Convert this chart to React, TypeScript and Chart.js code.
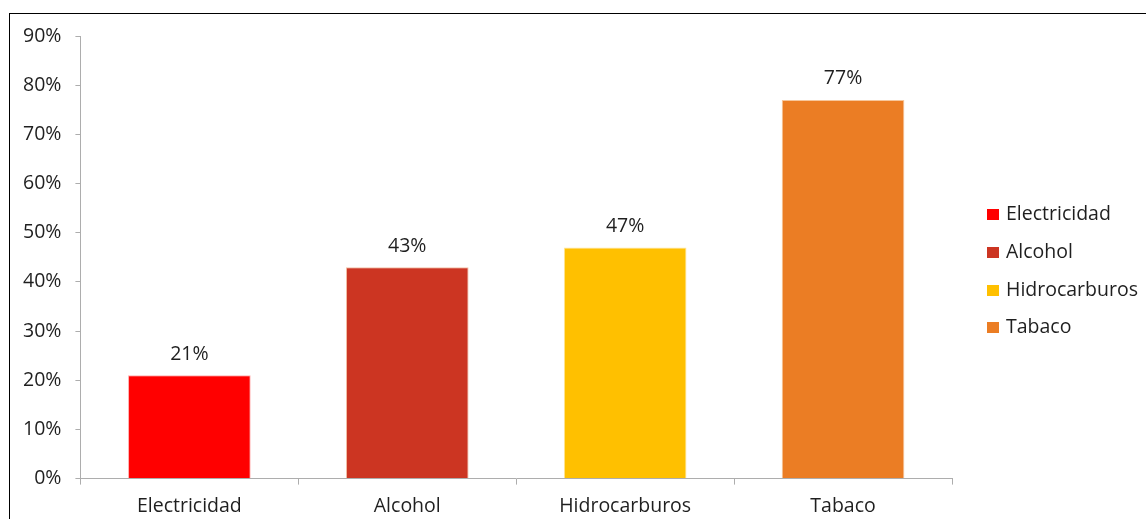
import React, { useEffect, useRef } from "react";
import { Chart, registerables } from "chart.js";

Chart.register(...registerables);

const categories = ["Electricidad", "Alcohol", "Hidrocarburos", "Tabaco"];
const values = [21, 43, 47, 77];
const barColors = ["#FF0000", "#CC3522", "#FFC000", "#EB7D24"];
const barBorders = ["#ffb0b0", "#f3c2a6", "#ffe59a", "#f7c79c"];
const yTicks = [0, 10, 20, 30, 40, 50, 60, 70, 80, 90];

const FONT = "'Open Sans', sans-serif";
const FS = 19.5;
const TEXT = "#1f1f1f";
const AXIS = "#adadad";

const valueLabels = {
  id: "valueLabels",
  afterDatasetsDraw(chart: any) {
    const ctx = chart.ctx;
    const meta = chart.getDatasetMeta(0);
    ctx.save();
    ctx.font = `${FS}px ${FONT}`;
    ctx.fillStyle = TEXT;
    ctx.textAlign = "center";
    ctx.textBaseline = "middle";
    meta.data.forEach((bar: any, i: number) => {
      ctx.fillText(`${values[i]}%`, bar.x, bar.y - 21);
    });
    ctx.restore();
  },
};

const sideLegend = {
  id: "sideLegend",
  afterDraw(chart: any) {
    const ctx = chart.ctx;
    const area = chart.chartArea;
    const rowGap = 37.7;
    const box = 11;
    const x0 = area.right + 35;
    const midY = (area.top + area.bottom) / 2 + 14;
    const startY = midY - ((categories.length - 1) * rowGap) / 2;
    ctx.save();
    ctx.font = `${FS}px ${FONT}`;
    ctx.textBaseline = "middle";
    ctx.textAlign = "left";
    categories.forEach((c, i) => {
      const y = startY + i * rowGap;
      ctx.fillStyle = barColors[i];
      ctx.fillRect(x0, Math.round(y - box / 2), box + 1, box);
      ctx.fillStyle = TEXT;
      ctx.fillText(c, x0 + 19, y);
    });
    ctx.restore();
  },
};

export default function App() {
  const ref = useRef<HTMLCanvasElement>(null);

  useEffect(() => {
    if (!ref.current) return;
    const chart = new Chart(ref.current, {
      type: "bar",
      data: {
        labels: categories,
        datasets: [
          {
            data: values,
            backgroundColor: barColors,
            borderColor: barBorders,
            borderWidth: 1,
            barPercentage: 0.563,
            categoryPercentage: 1,
          },
        ],
      },
      options: {
        animation: false,
        responsive: false,
        maintainAspectRatio: false,
        layout: { padding: { left: 9, top: 36, right: 194, bottom: -9 } },
        plugins: {
          legend: { display: false },
          tooltip: { enabled: false },
        },
        scales: {
          x: {
            offset: true,
            grid: {
              display: true,
              drawOnChartArea: false,
              drawTicks: true,
              tickLength: 6,
              color: AXIS,
              offset: true,
            },
            border: { color: AXIS, width: 1 },
            ticks: {
              color: TEXT,
              padding: 10,
              font: { family: FONT, size: FS, lineHeight: 1.2 },
            },
          },
          y: {
            min: 0,
            max: 90,
            afterBuildTicks(scale: any) {
              scale.ticks = yTicks.map((v) => ({ value: v }));
            },
            grid: {
              display: true,
              drawOnChartArea: false,
              drawTicks: true,
              tickLength: 5,
              color: AXIS,
            },
            border: { color: AXIS, width: 1 },
            ticks: {
              color: TEXT,
              padding: 14,
              font: { family: FONT, size: FS },
              callback: (v: any) => `${v}%`,
            },
          },
        },
      },
      plugins: [valueLabels, sideLegend],
    });
    return () => chart.destroy();
  }, []);

  return (
    <div
      style={{
        position: "absolute",
        left: 0,
        top: 0,
        width: 1146,
        height: 519,
        background: "#fff",
        overflow: "hidden",
      }}
    >
      <div
        style={{
          position: "absolute",
          left: 9,
          top: 13,
          width: 1200,
          height: 600,
          borderTop: "1px solid #000",
          borderLeft: "1px solid #000",
        }}
      />
      <canvas
        ref={ref}
        width={1146}
        height={519}
        style={{ position: "absolute", left: 0, top: 0, width: 1146, height: 519 }}
      />
    </div>
  );
}
